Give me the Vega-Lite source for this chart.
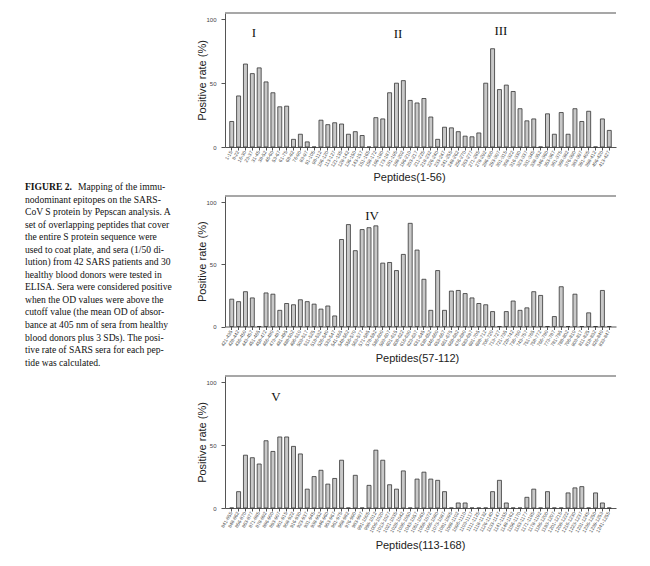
{
  "$schema": "https://vega.github.io/schema/vega-lite/v6.json",
  "background": "white",
  "padding": {"left": 25, "top": 12, "right": 5, "bottom": 5},
  "bounds": "flush",
  "spacing": 40,
  "datasets": {
    "bars": [
      {"p":1,"l":"1-15","v":20},{"p":1,"l":"8-22","v":40},{"p":1,"l":"16-30","v":65},{"p":1,"l":"23-37","v":57.5},{"p":1,"l":"31-45","v":62},
      {"p":1,"l":"38-52","v":51},{"p":1,"l":"46-60","v":42.5},{"p":1,"l":"53-67","v":31.5},{"p":1,"l":"61-75","v":32},{"p":1,"l":"68-82","v":6},
      {"p":1,"l":"76-90","v":10},{"p":1,"l":"83-97","v":4},{"p":1,"l":"91-105","v":0},{"p":1,"l":"98-112","v":21},{"p":1,"l":"106-120","v":17.5},
      {"p":1,"l":"113-127","v":19},{"p":1,"l":"121-135","v":18},{"p":1,"l":"128-142","v":10},{"p":1,"l":"136-150","v":12},{"p":1,"l":"143-157","v":9},
      {"p":1,"l":"151-165","v":0},{"p":1,"l":"158-172","v":23},{"p":1,"l":"166-180","v":22},{"p":1,"l":"173-187","v":42.5},{"p":1,"l":"181-195","v":50},
      {"p":1,"l":"188-202","v":52},{"p":1,"l":"196-210","v":36.5},{"p":1,"l":"203-217","v":34.5},{"p":1,"l":"211-225","v":38},{"p":1,"l":"218-232","v":23.5},
      {"p":1,"l":"226-240","v":6},{"p":1,"l":"233-247","v":15.5},{"p":1,"l":"241-255","v":15},{"p":1,"l":"248-262","v":12},{"p":1,"l":"256-270","v":8.5},
      {"p":1,"l":"263-277","v":8},{"p":1,"l":"271-285","v":11},{"p":1,"l":"278-292","v":50},{"p":1,"l":"286-300","v":77},{"p":1,"l":"293-307","v":45},
      {"p":1,"l":"301-315","v":48.5},{"p":1,"l":"308-322","v":43.5},{"p":1,"l":"316-330","v":30},{"p":1,"l":"323-337","v":20.5},{"p":1,"l":"331-345","v":22},
      {"p":1,"l":"338-352","v":0},{"p":1,"l":"346-360","v":26},{"p":1,"l":"353-367","v":10},{"p":1,"l":"361-375","v":27},{"p":1,"l":"368-382","v":10},
      {"p":1,"l":"376-390","v":30},{"p":1,"l":"383-397","v":20},{"p":1,"l":"391-405","v":28},{"p":1,"l":"398-412","v":0},{"p":1,"l":"406-420","v":22},
      {"p":1,"l":"413-427","v":13},
      {"p":2,"l":"421-435","v":22},{"p":2,"l":"428-442","v":20},{"p":2,"l":"436-450","v":28},{"p":2,"l":"443-457","v":23},{"p":2,"l":"451-465","v":0},
      {"p":2,"l":"458-472","v":27},{"p":2,"l":"466-480","v":26},{"p":2,"l":"473-487","v":13},{"p":2,"l":"481-495","v":18.5},{"p":2,"l":"488-502","v":17.5},
      {"p":2,"l":"496-510","v":21.5},{"p":2,"l":"503-517","v":20},{"p":2,"l":"511-525","v":18},{"p":2,"l":"518-532","v":14},{"p":2,"l":"526-540","v":16.5},
      {"p":2,"l":"533-547","v":8.5},{"p":2,"l":"541-555","v":70},{"p":2,"l":"548-562","v":82},{"p":2,"l":"556-570","v":61},{"p":2,"l":"563-577","v":78},
      {"p":2,"l":"571-585","v":79.5},{"p":2,"l":"578-592","v":81},{"p":2,"l":"586-600","v":51},{"p":2,"l":"593-607","v":51.5},{"p":2,"l":"601-615","v":45},
      {"p":2,"l":"608-622","v":58},{"p":2,"l":"616-630","v":83},{"p":2,"l":"623-637","v":61.5},{"p":2,"l":"631-645","v":38},{"p":2,"l":"638-652","v":13},
      {"p":2,"l":"646-660","v":45},{"p":2,"l":"653-667","v":13},{"p":2,"l":"661-675","v":28.5},{"p":2,"l":"668-682","v":29},{"p":2,"l":"676-690","v":26.5},
      {"p":2,"l":"683-697","v":23},{"p":2,"l":"691-705","v":18.5},{"p":2,"l":"698-712","v":17.5},{"p":2,"l":"706-720","v":12},{"p":2,"l":"713-727","v":0},
      {"p":2,"l":"721-735","v":12},{"p":2,"l":"728-742","v":20.5},{"p":2,"l":"736-750","v":13},{"p":2,"l":"743-757","v":15},{"p":2,"l":"751-765","v":28},
      {"p":2,"l":"758-772","v":25},{"p":2,"l":"766-780","v":0},{"p":2,"l":"773-787","v":8},{"p":2,"l":"781-795","v":32},{"p":2,"l":"788-802","v":0},
      {"p":2,"l":"796-810","v":26},{"p":2,"l":"803-817","v":0},{"p":2,"l":"811-825","v":11},{"p":2,"l":"818-832","v":0},{"p":2,"l":"826-840","v":29},
      {"p":2,"l":"833-847","v":0},
      {"p":3,"l":"841-855","v":0},{"p":3,"l":"848-862","v":13},{"p":3,"l":"856-870","v":42},{"p":3,"l":"863-877","v":40},{"p":3,"l":"871-885","v":35},
      {"p":3,"l":"878-892","v":53.5},{"p":3,"l":"886-900","v":45},{"p":3,"l":"893-907","v":56.5},{"p":3,"l":"901-915","v":56.5},{"p":3,"l":"908-922","v":49},
      {"p":3,"l":"916-930","v":43},{"p":3,"l":"923-937","v":15},{"p":3,"l":"931-945","v":25},{"p":3,"l":"938-952","v":30},{"p":3,"l":"946-960","v":19},
      {"p":3,"l":"953-967","v":23.5},{"p":3,"l":"961-975","v":38},{"p":3,"l":"968-982","v":0},{"p":3,"l":"976-990","v":26},{"p":3,"l":"983-997","v":0},
      {"p":3,"l":"991-1005","v":18},{"p":3,"l":"998-1012","v":46},{"p":3,"l":"1006-1020","v":38},{"p":3,"l":"1013-1027","v":18.5},{"p":3,"l":"1021-1035","v":15},
      {"p":3,"l":"1028-1042","v":29.5},{"p":3,"l":"1036-1050","v":0},{"p":3,"l":"1043-1057","v":23},{"p":3,"l":"1051-1065","v":28.5},{"p":3,"l":"1058-1072","v":23},
      {"p":3,"l":"1066-1080","v":22},{"p":3,"l":"1073-1087","v":13},{"p":3,"l":"1081-1095","v":0},{"p":3,"l":"1088-1102","v":4},{"p":3,"l":"1096-1110","v":4},
      {"p":3,"l":"1103-1117","v":0},{"p":3,"l":"1111-1125","v":0},{"p":3,"l":"1118-1132","v":0},{"p":3,"l":"1126-1140","v":13},{"p":3,"l":"1133-1147","v":22},
      {"p":3,"l":"1141-1155","v":4},{"p":3,"l":"1148-1162","v":0},{"p":3,"l":"1156-1170","v":0},{"p":3,"l":"1163-1177","v":8.5},{"p":3,"l":"1171-1185","v":15},
      {"p":3,"l":"1178-1192","v":0},{"p":3,"l":"1186-1200","v":13},{"p":3,"l":"1193-1207","v":0},{"p":3,"l":"1201-1215","v":0},{"p":3,"l":"1208-1222","v":12},
      {"p":3,"l":"1216-1230","v":16},{"p":3,"l":"1223-1237","v":17},{"p":3,"l":"1231-1245","v":0},{"p":3,"l":"1236-1250","v":12},{"p":3,"l":"1239-1253","v":4},
      {"p":3,"l":"1241-1255","v":0}
    ],
    "numerals": [
      {"p":1,"l":"23-37","y":89,"t":"I"},
      {"p":1,"l":"181-195","y":88.5,"t":"II"},
      {"p":1,"l":"293-307","y":91,"t":"III"},
      {"p":2,"l":"571-585","y":88.7,"t":"IV"},
      {"p":3,"l":"886-900","y":88,"t":"V"}
    ],
    "caption": [
      {"line":1,"part":"b","text":"FIGURE 2."},
      {"line":1,"part":"r","text":"Mapping of the immu-"},
      {"line":2,"part":"n","text":"nodominant epitopes on the SARS-"},
      {"line":3,"part":"n","text":"CoV S protein by Pepscan analysis. A"},
      {"line":4,"part":"n","text":"set of overlapping peptides that cover"},
      {"line":5,"part":"n","text":"the entire S protein sequence were"},
      {"line":6,"part":"n","text":"used to coat plate, and sera (1/50 di-"},
      {"line":7,"part":"n","text":"lution) from 42 SARS patients and 30"},
      {"line":8,"part":"n","text":"healthy blood donors were tested in"},
      {"line":9,"part":"n","text":"ELISA. Sera were considered positive"},
      {"line":10,"part":"n","text":"when the OD values were above the"},
      {"line":11,"part":"n","text":"cutoff value (the mean OD of absor-"},
      {"line":12,"part":"n","text":"bance at 405 nm of sera from healthy"},
      {"line":13,"part":"n","text":"blood donors plus 3 SDs). The posi-"},
      {"line":14,"part":"n","text":"tive rate of SARS sera for each pep-"},
      {"line":15,"part":"n","text":"tide was calculated."}
    ]
  },
  "hconcat": [
    {
      "width": 160,
      "height": 500,
      "data": {"name": "caption"},
      "encoding": {
        "x": {"datum": 0, "type": "quantitative", "scale": {"domain": [0, 1]}, "axis": null},
        "y": {"field": "line", "type": "quantitative", "scale": {"domain": [-12.9, 27], "reverse": true, "nice": false, "zero": false}, "axis": null},
        "text": {"field": "text"}
      },
      "layer": [
        {"transform": [{"filter": "datum.part == 'b'"}], "mark": {"type": "text", "align": "left", "baseline": "middle", "font": "Liberation Serif", "fontSize": 9.6, "fontWeight": "bold", "color": "#111"}},
        {"transform": [{"filter": "datum.part == 'r'"}], "mark": {"type": "text", "align": "left", "baseline": "middle", "font": "Liberation Serif", "fontSize": 9.6, "color": "#111", "dx": 53}},
        {"transform": [{"filter": "datum.part == 'n'"}], "mark": {"type": "text", "align": "left", "baseline": "middle", "font": "Liberation Serif", "fontSize": 9.6, "color": "#111"}}
      ]
    },
    {
      "vconcat": [
        {
          "width": 391, "height": 134,
          "layer": [
            {
              "data": {"name": "bars"},
              "transform": [{"filter": "datum.p == 1"}],
              "mark": {"type": "bar", "fill": "#c8c8c8", "stroke": "#333", "strokeWidth": 0.8},
              "encoding": {
                "x": {"field": "l", "type": "nominal", "sort": null, "scale": {"paddingInner": 0.42, "paddingOuter": 0.69},
                      "axis": {"title": "Peptides(1-56)", "titleX": 184, "titleY": 30, "titleBaseline": "middle"}},
                "y": {"field": "v", "type": "quantitative", "scale": {"domain": [0, 105], "nice": false},
                      "axis": {"title": "Positive rate (%)", "values": [0, 25, 50, 75, 100]}}
              }
            },
            {
              "data": {"name": "numerals"},
              "transform": [{"filter": "datum.p == 1"}],
              "mark": {"type": "text", "font": "Liberation Serif", "fontSize": 13, "color": "#111", "baseline": "middle", "dx": 1.5},
              "encoding": {
                "x": {"field": "l", "type": "nominal", "sort": null},
                "y": {"field": "y", "type": "quantitative"},
                "text": {"field": "t"}
              }
            },
            {
              "data": {"values": [{}]},
              "mark": {"type": "rule", "color": "#8a8a8a", "strokeWidth": 1.4},
              "encoding": {"y": {"datum": 105}}
            }
          ]
        },
        {
          "width": 391, "height": 130.5,
          "layer": [
            {
              "data": {"name": "bars"},
              "transform": [{"filter": "datum.p == 2"}],
              "mark": {"type": "bar", "fill": "#c8c8c8", "stroke": "#333", "strokeWidth": 0.8},
              "encoding": {
                "x": {"field": "l", "type": "nominal", "sort": null, "scale": {"paddingInner": 0.42, "paddingOuter": 0.69},
                      "axis": {"title": "Peptides(57-112)", "titleX": 192, "titleY": 32, "titleBaseline": "middle"}},
                "y": {"field": "v", "type": "quantitative", "scale": {"domain": [0, 105], "nice": false},
                      "axis": {"title": "Positive rate (%)", "values": [0, 25, 50, 75, 100]}}
              }
            },
            {
              "data": {"name": "numerals"},
              "transform": [{"filter": "datum.p == 2"}],
              "mark": {"type": "text", "font": "Liberation Serif", "fontSize": 13, "color": "#111", "baseline": "middle", "dx": 3},
              "encoding": {
                "x": {"field": "l", "type": "nominal", "sort": null},
                "y": {"field": "y", "type": "quantitative"},
                "text": {"field": "t"}
              }
            },
            {
              "data": {"values": [{}]},
              "mark": {"type": "rule", "color": "#8a8a8a", "strokeWidth": 1.4},
              "encoding": {"y": {"datum": 105}}
            }
          ]
        },
        {
          "width": 391, "height": 132,
          "layer": [
            {
              "data": {"name": "bars"},
              "transform": [{"filter": "datum.p == 3"}],
              "mark": {"type": "bar", "fill": "#c8c8c8", "stroke": "#333", "strokeWidth": 0.8},
              "encoding": {
                "x": {"field": "l", "type": "nominal", "sort": null, "scale": {"paddingInner": 0.42, "paddingOuter": 0.69},
                      "axis": {"title": "Peptides(113-168)", "titleX": 195, "titleY": 37, "titleBaseline": "middle"}},
                "y": {"field": "v", "type": "quantitative", "scale": {"domain": [0, 105], "nice": false},
                      "axis": {"title": "Positive rate (%)", "values": [0, 25, 50, 75, 100]}}
              }
            },
            {
              "data": {"name": "numerals"},
              "transform": [{"filter": "datum.p == 3"}],
              "mark": {"type": "text", "font": "Liberation Serif", "fontSize": 13, "color": "#111", "baseline": "middle", "dx": 3},
              "encoding": {
                "x": {"field": "l", "type": "nominal", "sort": null},
                "y": {"field": "y", "type": "quantitative"},
                "text": {"field": "t"}
              }
            },
            {
              "data": {"values": [{}]},
              "mark": {"type": "rule", "color": "#8a8a8a", "strokeWidth": 1.4},
              "encoding": {"y": {"datum": 105}}
            }
          ]
        }
      ],
      "spacing": 49,
      "bounds": "flush"
    }
  ],
  "config": {
    "view": {"stroke": null},
    "axis": {
      "grid": false,
      "domainColor": "#555",
      "tickColor": "#555",
      "labelColor": "#444",
      "titleColor": "#222",
      "labelFont": "Liberation Sans",
      "titleFont": "Liberation Sans",
      "titleFontWeight": "normal",
      "titleFontSize": 11
    },
    "axisY": {"labelFontSize": 6, "tickSize": 4, "labelPadding": 5, "titlePadding": -2},
    "axisX": {"labelFontSize": 4.8, "labelAngle": -60, "tickSize": 3, "labelPadding": 1, "labelOverlap": false, "labelBound": false}
  }
}
